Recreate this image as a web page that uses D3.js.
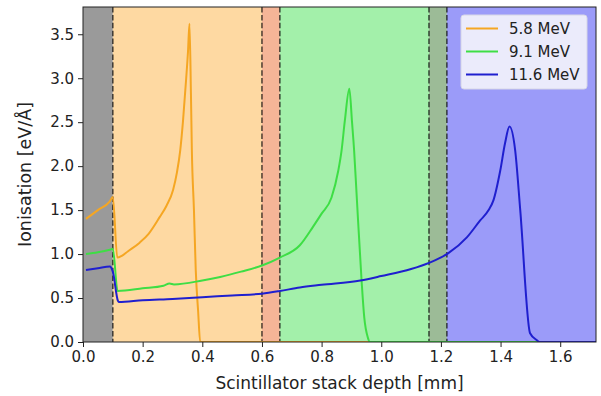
<!DOCTYPE html>
<html>
<head>
<meta charset="utf-8">
<script src="https://cdn.jsdelivr.net/npm/d3@7"></script>
<style>
  body { margin: 0; background: #fff; }
  svg text { font-family: "DejaVu Sans", sans-serif; fill: #222; }
</style>
</head>
<body>
<div id="chart"></div>
<script>
const width = 601, height = 396;
const margin = { top: 7, right: 5, bottom: 54, left: 83 };

// layers of the scintillator stack [start, end] in mm
const layerStart = [0, 0.1, 0.6, 0.66, 1.16, 1.22];
const layerEnd = [0.1, 0.6, 0.66, 1.16, 1.22, 1.72];
const layerColors = ["#9a9a9a", "#fed9a2", "#f5b597", "#a3f0aa", "#9cbb97", "#9b9bf9"];
const dashedAt = [0.1, 0.6, 0.66, 1.16, 1.22];

const xTicks = [0, 0.2, 0.4, 0.6, 0.8, 1.0, 1.2, 1.4, 1.6];
const yTicks = [0, 0.5, 1.0, 1.5, 2.0, 2.5, 3.0, 3.5];

// 5.8 MeV
const depth58 = [0.01, 0.05, 0.09, 0.1, 0.115, 0.13, 0.15, 0.19, 0.22, 0.257, 0.28, 0.302, 0.315, 0.326, 0.335, 0.346, 0.352, 0.357, 0.362, 0.365, 0.372, 0.378, 0.386, 0.393, 1.72];
const ion58 = [1.40, 1.50, 1.60, 1.65, 0.96, 0.98, 1.03, 1.13, 1.23, 1.42, 1.55, 1.73, 1.93, 2.18, 2.5, 3.0, 3.3, 3.62, 2.8, 2.18, 1.5, 0.82, 0.35, 0.0, 0.0];

// 9.1 MeV
const depth91 = [0.01, 0.05, 0.09, 0.1, 0.116, 0.2, 0.27, 0.29, 0.305, 0.4, 0.46, 0.53, 0.6, 0.66, 0.727, 0.771, 0.8, 0.833, 0.856, 0.867, 0.878, 0.893, 0.902, 0.909, 0.917, 0.934, 0.943, 0.955, 0.962, 1.72];
const ion91 = [1.0, 1.02, 1.05, 1.06, 0.58, 0.61, 0.64, 0.665, 0.655, 0.70, 0.74, 0.80, 0.87, 0.96, 1.10, 1.31, 1.46, 1.64, 1.95, 2.18, 2.52, 2.88, 2.5, 2.18, 1.7, 0.70, 0.28, 0.05, 0.0, 0.0];

// 11.6 MeV
const depth116 = [0.01, 0.05, 0.09, 0.1, 0.117, 0.12, 0.2, 0.3, 0.4, 0.5, 0.6, 0.66, 0.727, 0.8, 0.93, 1.0, 1.1, 1.16, 1.225, 1.287, 1.331, 1.36, 1.376, 1.399, 1.415, 1.43, 1.449, 1.466, 1.499, 1.522, 1.53, 1.72];
const ion116 = [0.82, 0.84, 0.86, 0.80, 0.47, 0.455, 0.475, 0.49, 0.51, 0.53, 0.55, 0.58, 0.62, 0.65, 0.70, 0.75, 0.83, 0.90, 1.01, 1.19, 1.38, 1.50, 1.61, 1.95, 2.26, 2.45, 2.18, 1.50, 0.10, 0.02, 0.0, 0.0];

const seriesNames = ["5.8 MeV", "9.1 MeV", "11.6 MeV"];
const seriesColors = ["#f5a623", "#3ede45", "#1f1fcf"];
const series = [[depth58, ion58], [depth91, ion91], [depth116, ion116]];

const svg = d3.select("#chart").append("svg")
    .attr("width", width)
    .attr("height", height);

const x = d3.scaleLinear().domain([0, 1.72]).range([margin.left, width - margin.right]);
const y = d3.scaleLinear().domain([0, 3.81]).range([height - margin.bottom, margin.top]);

svg.append("defs").append("clipPath").attr("id", "plot-clip")
  .append("rect")
    .attr("x", margin.left).attr("y", margin.top)
    .attr("width", x.range()[1] - margin.left)
    .attr("height", y.range()[0] - margin.top);

const plot = svg.append("g").attr("clip-path", "url(#plot-clip)");

// coloured layers
plot.selectAll("rect.layer")
  .data(layerStart)
  .enter().append("rect")
    .attr("class", "layer")
    .attr("x", d => x(d))
    .attr("y", margin.top)
    .attr("width", (d, i) => x(layerEnd[i]) - x(d))
    .attr("height", y.range()[0] - margin.top)
    .attr("fill", (d, i) => layerColors[i]);

// layer boundaries
plot.selectAll("line.bound")
  .data(dashedAt)
  .enter().append("line")
    .attr("x1", d => x(d)).attr("x2", d => x(d))
    .attr("y1", margin.top).attr("y2", y.range()[0])
    .attr("stroke", "#000")
    .attr("stroke-opacity", 0.7)
    .attr("stroke-width", 1.5)
    .attr("stroke-dasharray", "5.5,2.4");

const line = d3.line()
    .curve(d3.curveMonotoneX)
    .x(d => x(d[0]))
    .y(d => y(d[1]));

series.forEach((s, i) => {
  const pts = s[0].map((d, j) => [d, s[1][j]]);
  plot.append("path")
      .datum(pts)
      .attr("d", line)
      .attr("fill", "none")
      .attr("stroke", seriesColors[i])
      .attr("stroke-width", 2)
      .attr("stroke-linejoin", "round");
});

// frame
svg.append("rect")
    .attr("x", margin.left).attr("y", margin.top)
    .attr("width", x.range()[1] - margin.left)
    .attr("height", y.range()[0] - margin.top)
    .attr("fill", "none")
    .attr("stroke", "#222")
    .attr("stroke-width", 1);

// axes
const xAxis = svg.append("g")
    .attr("transform", `translate(0,${y.range()[0]})`)
    .call(d3.axisBottom(x).tickValues(xTicks).tickFormat(d3.format(".1f")).tickSize(5).tickPadding(4));
const yAxis = svg.append("g")
    .attr("transform", `translate(${margin.left},0)`)
    .call(d3.axisLeft(y).tickValues(yTicks).tickFormat(d3.format(".1f")).tickSize(5).tickPadding(4));

[xAxis, yAxis].forEach(a => {
  a.select(".domain").remove();
  a.selectAll(".tick line").attr("stroke", "#222");
  a.selectAll(".tick text")
      .style("font-family", "DejaVu Sans, sans-serif")
      .style("font-size", "15px")
      .attr("fill", "#333");
});

svg.append("text")
    .attr("x", (margin.left + x.range()[1]) / 2)
    .attr("y", 389)
    .attr("text-anchor", "middle")
    .style("font-size", "17px")
    .text("Scintillator stack depth [mm]");

svg.append("text")
    .attr("transform", `translate(31,${(margin.top + y.range()[0]) / 2}) rotate(-90)`)
    .attr("text-anchor", "middle")
    .style("font-size", "17.5px")
    .text("Ionisation [eV/Å]");

// legend
const legend = svg.append("g").attr("transform", "translate(461,15)");
legend.append("rect")
    .attr("width", 126).attr("height", 74)
    .attr("rx", 3)
    .attr("fill", "#ebebfb")
    .attr("stroke", "#d6d6e6");
seriesNames.forEach((name, i) => {
  const row = legend.append("g").attr("transform", `translate(0,${13.5 + i * 23})`);
  row.append("line")
      .attr("x1", 5).attr("x2", 37)
      .attr("stroke", seriesColors[i])
      .attr("stroke-width", 2);
  row.append("text")
      .attr("x", 48).attr("dy", "0.35em")
      .style("font-size", "15px")
      .text(name);
});
</script>
</body>
</html>
